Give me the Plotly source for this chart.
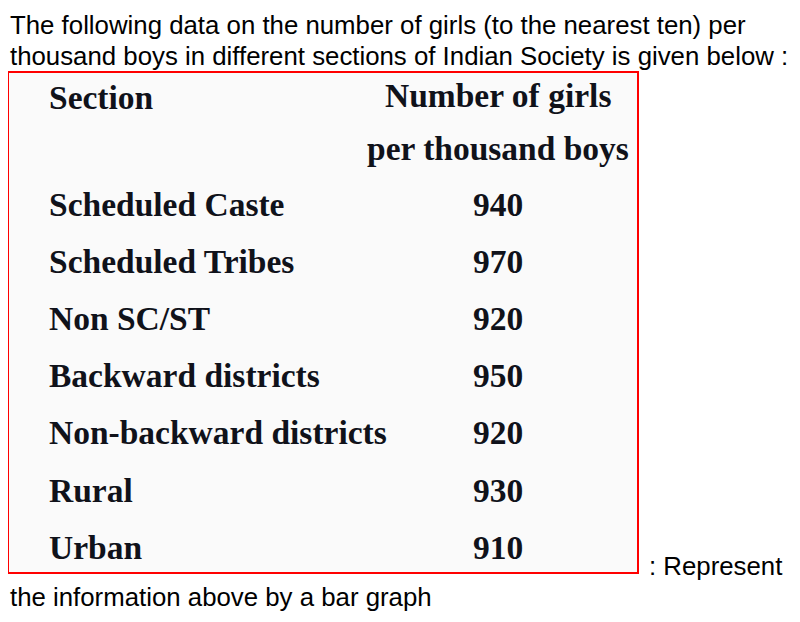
import plotly.graph_objects as go

# table data
sections = ["Scheduled Caste", "Scheduled Tribes", "Non SC/ST", "Backward districts",
            "Non-backward districts", "Rural", "Urban"]
girls_per_thousand = [940, 970, 920, 950, 920, 930, 910]
header = ["Section", "Number of girls", "per thousand boys"]

question_lines = [
    "The following data on the number of girls (to the nearest ten) per",
    "thousand boys in different sections of Indian Society is given below :",
]
tail_text = ": Represent"
last_line = "the information above by a bar graph"

sans = "Liberation Sans, Arial, sans-serif"
serif = "Liberation Serif, Times New Roman, serif"
tsize = 33.5
qsize = 25.8

fig = go.Figure()

# red frame around the scanned table
fig.add_shape(type="rect", x0=8, x1=638, y0=72, y1=573,
              line=dict(color="#ff0000", width=2), fillcolor="#fafafa", layer="below")

ann = []
for i, line in enumerate(question_lines):
    ann.append(dict(x=8, y=25 + i * 31, text=line, xanchor="left",
                    font=dict(family=sans, size=qsize, color="#000")))

ann.append(dict(x=47, y=97, text="<b>" + header[0] + "</b>", xanchor="left",
                font=dict(family=serif, size=tsize, color="#10121a")))
ann.append(dict(x=498, y=95, text="<b>" + header[1] + "</b>", xanchor="center",
                font=dict(family=serif, size=tsize, color="#10121a")))
ann.append(dict(x=498, y=148, text="<b>" + header[2] + "</b>", xanchor="center",
                font=dict(family=serif, size=tsize, color="#10121a")))

for i, (s, v) in enumerate(zip(sections, girls_per_thousand)):
    yy = 204 + i * 57.2
    ann.append(dict(x=47, y=yy, text="<b>" + s + "</b>", xanchor="left",
                    font=dict(family=serif, size=tsize, color="#10121a")))
    ann.append(dict(x=498, y=yy, text="<b>" + str(v) + "</b>", xanchor="center",
                    font=dict(family=serif, size=tsize, color="#10121a")))

ann.append(dict(x=647, y=566, text=tail_text, xanchor="left",
                font=dict(family=sans, size=qsize, color="#000")))
ann.append(dict(x=8, y=597, text=last_line, xanchor="left",
                font=dict(family=sans, size=qsize, color="#000")))

for a in ann:
    a.update(xref="x", yref="y", showarrow=False, yanchor="middle")

# page body has an 8px margin, so shift the ranges to keep page pixels == data units
fig.update_layout(
    width=800, height=622,
    margin=dict(l=0, r=0, t=0, b=0),
    paper_bgcolor="white", plot_bgcolor="white",
    annotations=ann,
    xaxis=dict(range=[8, 808], visible=False, fixedrange=True),
    yaxis=dict(range=[630, 8], visible=False, fixedrange=True),
    showlegend=False,
)

fig.write_html("out.html")
